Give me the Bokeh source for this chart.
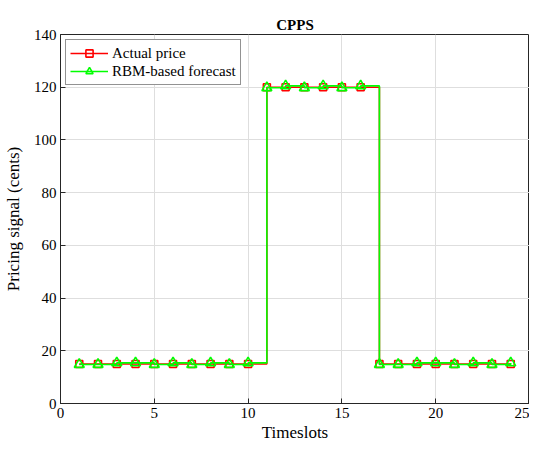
from bokeh.plotting import figure
from bokeh.models import Range1d, FixedTicker, Legend, LegendItem, Title
from bokeh.embed import file_html
from bokeh.resources import INLINE

timeslots = [1, 2, 3, 4, 5, 6, 7, 8, 9, 10, 11, 12, 13, 14, 15, 16, 17, 18, 19, 20, 21, 22, 23, 24]
actual_price = [15, 15, 15, 15, 15, 15, 15, 15, 15, 15, 120, 120, 120, 120, 120, 120,
                15, 15, 15, 15, 15, 15, 15, 15]
rbm_forecast = [14.8, 14.8, 15.4, 15.4, 14.8, 15.4, 14.8, 15.4, 14.8, 15.4,
                119.8, 120.5, 119.8, 120.5, 119.8, 120.5,
                14.8, 14.8, 15.4, 15.4, 14.8, 15.4, 14.8, 15.4]
x_ticks = [0, 5, 10, 15, 20, 25]
y_ticks = [0, 20, 40, 60, 80, 100, 120, 140]

FONT = "Liberation Serif"
AX = "#262626"

p = figure(width=529, height=441, output_backend="svg", toolbar_location=None,
           x_range=Range1d(0, 25), y_range=Range1d(0, 140),
           min_border_left=55, min_border_right=0, min_border_top=34, min_border_bottom=0)

p.title.text = "CPPS"
p.title.align = "center"
p.title.text_font = FONT
p.title.text_font_size = "15px"
p.title.text_font_style = "bold"
p.title.text_color = "black"
p.title.standoff = 4

p.outline_line_color = AX
p.outline_line_width = 1

for ax in (p.xaxis[0], p.yaxis[0]):
    ax.major_label_text_font = FONT
    ax.major_label_text_font_size = "15px"
    ax.major_label_text_color = "black"
    ax.axis_label_text_font = FONT
    ax.axis_label_text_font_size = "17px"
    ax.axis_label_text_font_style = "normal"
    ax.axis_label_text_color = "black"
    ax.axis_line_color = AX
    ax.major_tick_line_color = AX
    ax.major_tick_in = 5
    ax.major_tick_out = 0
    ax.minor_tick_line_color = None
    ax.major_label_standoff = 4

p.xaxis[0].ticker = FixedTicker(ticks=x_ticks)
p.yaxis[0].ticker = FixedTicker(ticks=y_ticks)
p.yaxis[0].axis_label = "Pricing signal (cents)"
p.xaxis[0].major_label_standoff = 4
p.yaxis[0].axis_label_standoff = 8

xlabel = Title(text="Timeslots", align="center", vertical_align="bottom",
               text_font=FONT, text_font_size="17px",
               text_font_style="normal", text_color="black", standoff=0, offset=0)
p.add_layout(xlabel, "below")

p.xgrid.ticker = FixedTicker(ticks=x_ticks)
p.ygrid.ticker = FixedTicker(ticks=y_ticks)
p.grid.grid_line_color = "#dedede"
p.grid.grid_line_width = 1

r1 = p.step(timeslots, actual_price, mode="after", line_color="#ff0000", line_width=1.6)
m1 = p.scatter(timeslots, actual_price, marker="square", size=7, line_color="#ff0000",
               fill_color=None, line_width=1.6)
r2 = p.step(timeslots, rbm_forecast, mode="after", line_color="#00ff00", line_width=1.6)
m2 = p.scatter(timeslots, rbm_forecast, marker="triangle", size=10, line_color="#00ff00",
               fill_color=None, line_width=1.6)

legend = Legend(items=[LegendItem(label="Actual price", renderers=[r1, m1]),
                       LegendItem(label="RBM-based forecast", renderers=[r2, m2])],
                location="top_left")
legend.label_text_font = FONT
legend.label_text_font_size = "15px"
legend.label_text_color = "black"
legend.border_line_color = AX
legend.border_line_width = 1
legend.background_fill_alpha = 1
legend.glyph_width = 38
legend.glyph_height = 18
legend.spacing = 0
legend.padding = 4
legend.margin = 5
legend.label_standoff = 4
legend.label_height = 18
p.add_layout(legend)

open("out.html", "w").write(file_html(p, INLINE))
